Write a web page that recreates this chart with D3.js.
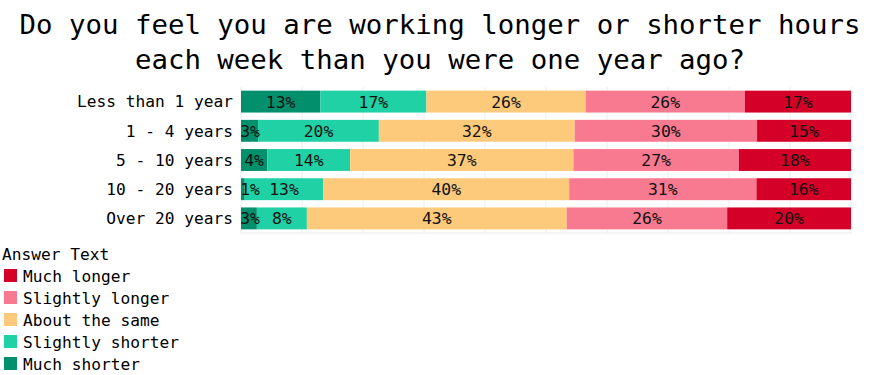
<!DOCTYPE html>
<html>
<head>
<meta charset="utf-8">
<script src="https://cdn.jsdelivr.net/npm/d3@7"></script>
<style>
  body { margin: 0; background: #fff; }
  text { font-family: "DejaVu Sans Mono", monospace; }
</style>
</head>
<body>
<div id="chart"></div>
<script>
var canvasWidth = 881;
var canvasHeight = 375;

// rows (top to bottom)
var groups = ["Less than 1 year", "1 - 4 years", "5 - 10 years", "10 - 20 years", "Over 20 years"];
// stack order left to right
var answers = ["Much shorter", "Slightly shorter", "About the same", "Slightly longer", "Much longer"];
// legend order
var legendOrder = ["Much longer", "Slightly longer", "About the same", "Slightly shorter", "Much shorter"];

// percent of each row, one array per answer, in the order of groups
var muchShorter     = [13.0, 2.8, 4.3, 0.6, 2.6];
var slightlyShorter = [17.4, 19.8, 13.6, 12.9, 8.2];
var aboutSame       = [26.1, 32.1, 36.6, 40.3, 42.6];
var slightlyLonger  = [26.1, 29.9, 27.1, 30.7, 26.3];
var muchLonger      = [17.4, 15.4, 18.4, 15.5, 20.3];

var colors = ["#028f6b", "#1fd1a5", "#fdca7b", "#f87a91", "#d40028"];

var seriesValues = [muchShorter, slightlyShorter, aboutSame, slightlyLonger, muchLonger];

var table = groups.map(function(g, i) {
    var row = {group: g};
    answers.forEach(function(a, j) { row[a] = seriesValues[j][i]; });
    return row;
});

var svg = d3.select("#chart")
    .append("svg")
    .attr("width", canvasWidth)
    .attr("height", canvasHeight);

/*Title*/
var title = svg.append("text")
    .attr("text-anchor", "middle")
    .attr("font-size", 27.4)
    .attr("fill", "#000");
title.append("tspan").attr("x", 440).attr("y", 34).text("Do you feel you are working longer or shorter hours");
title.append("tspan").attr("x", 440).attr("y", 69).text("each week than you were one year ago?");

var plot = {left: 241, right: 851, top: 87, bottom: 233};

var xScale = d3.scaleLinear().domain([0, 100]).range([plot.left, plot.right]);
var yScale = d3.scaleBand().domain(groups).range([plot.top, plot.bottom]).paddingInner(0.25).paddingOuter(0.125);
var color = d3.scaleOrdinal().domain(answers).range(colors);

/*Gridlines*/
svg.append("g")
    .selectAll("line")
    .data(d3.range(0, 101, 10))
    .join("line")
    .attr("x1", function(d) { return xScale(d); })
    .attr("x2", function(d) { return xScale(d); })
    .attr("y1", plot.top)
    .attr("y2", plot.bottom)
    .attr("stroke", "#ececec")
    .attr("stroke-width", 1);

svg.append("line")
    .attr("x1", plot.left).attr("x2", plot.right)
    .attr("y1", plot.bottom).attr("y2", plot.bottom)
    .attr("stroke", "#ececec");

svg.append("defs").append("clipPath").attr("id", "clip")
    .append("rect")
    .attr("x", plot.left).attr("y", plot.top)
    .attr("width", plot.right - plot.left).attr("height", plot.bottom - plot.top);

var stacked = d3.stack().keys(answers)(table);

var layers = svg.append("g")
    .selectAll("g")
    .data(stacked)
    .join("g")
    .attr("fill", function(d) { return color(d.key); });

layers.selectAll("rect")
    .data(function(d) { return d; })
    .join("rect")
    .attr("x", function(d) { return xScale(d[0]); })
    .attr("y", function(d) { return yScale(d.data.group); })
    .attr("width", function(d) { return xScale(d[1]) - xScale(d[0]); })
    .attr("height", yScale.bandwidth());

/*Segment labels*/
svg.append("g")
    .attr("clip-path", "url(#clip)")
    .selectAll("g")
    .data(stacked)
    .join("g")
    .each(function(s) {
        d3.select(this).selectAll("text")
            .data(s)
            .join("text")
            .attr("x", function(d) { return Math.max((xScale(d[0]) + xScale(d[1])) / 2, plot.left + 9); })
            .attr("y", function(d) { return yScale(d.data.group) + yScale.bandwidth() / 2; })
            .attr("dy", "0.36em")
            .attr("text-anchor", "middle")
            .attr("font-size", 16.4)
            .attr("fill", "#111")
            .text(function(d) { return Math.round(d.data[s.key]) + "%"; });
    });

/*Row labels*/
svg.append("g")
    .selectAll("text")
    .data(groups)
    .join("text")
    .attr("x", 233)
    .attr("y", function(d) { return yScale(d) + yScale.bandwidth() / 2; })
    .attr("dy", "0.36em")
    .attr("text-anchor", "end")
    .attr("font-size", 16.2)
    .attr("fill", "#000")
    .text(function(d) { return d; });

/*Legend*/
var legend = svg.append("g").attr("transform", "translate(2,260)");
legend.append("text")
    .attr("x", 0).attr("y", 0)
    .attr("font-size", 16.2)
    .attr("fill", "#000")
    .text("Answer Text");

var items = legend.selectAll(".item")
    .data(legendOrder)
    .join("g")
    .attr("class", "item")
    .attr("transform", function(d, i) { return "translate(0," + (9 + i * 22) + ")"; });

items.append("rect")
    .attr("x", 2).attr("y", 0)
    .attr("width", 13).attr("height", 13)
    .attr("fill", function(d) { return color(d); });

items.append("text")
    .attr("x", 21).attr("y", 12.5)
    .attr("font-size", 16.2)
    .attr("fill", "#000")
    .text(function(d) { return d; });
</script>
</body>
</html>
